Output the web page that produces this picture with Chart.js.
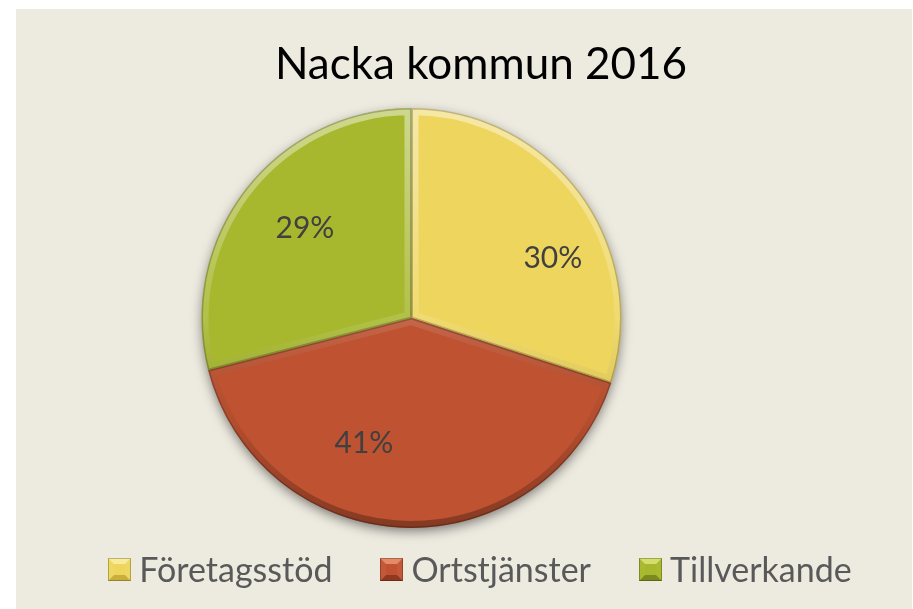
<!DOCTYPE html>
<html>
<head>
<meta charset="utf-8">
<script src="https://cdn.jsdelivr.net/npm/chart.js@4"></script>
<style>
  html, body { margin: 0; padding: 0; background: #fff; }
  body { width: 913px; height: 609px; position: relative; overflow: hidden; }
  #panel { position: absolute; left: 16px; top: 9px; width: 896px; height: 600px; background: #EDEAE0; }
  #pie { position: absolute; left: 0; top: 0; }
  #title { position: absolute; left: 0; top: 31px; width: 930px; text-align: center;
    font: 44px Lato, sans-serif; line-height: 1; color: #000; }
  #legend { position: absolute; left: 0; width: 928px; top: 543px; display: flex; justify-content: center;
    font: 34px Lato, sans-serif; color: #595959; line-height: 1; }
  .item { display: flex; align-items: center; margin: 0 24px; }
  .mark { box-sizing: border-box; width: 23px; height: 23px; border: 6px solid; margin-right: 8px; outline: 1px solid rgba(0,0,0,0.25); outline-offset: -1px; }
</style>
</head>
<body>
<div id="panel">
  <canvas id="pie" width="896" height="600"></canvas>
  <div id="title">Nacka kommun 2016</div>
  <div id="legend"></div>
</div>
<script>
(() => {
  const chartTitle = 'Nacka kommun 2016';
  const categories = ['Företagsstöd', 'Ortstjänster', 'Tillverkande'];
  const shares = [30, 41, 29];
  const sliceColors = ['#EED65E', '#BE5231', '#A7B82F'];
  const markerShades = [
    { top: '#F8EC9A', side: '#EFD862', bottom: '#C9AE3C' },
    { top: '#E48A68', side: '#C4593A', bottom: '#8F3A20' },
    { top: '#D3DE6C', side: '#A9BA31', bottom: '#7B8A1E' }
  ];

  document.getElementById('title').textContent = chartTitle;

  // legend in html, built from the same arrays
  const legend = document.getElementById('legend');
  categories.forEach((name, i) => {
    const item = document.createElement('div');
    item.className = 'item';
    const mark = document.createElement('span');
    mark.className = 'mark';
    const s = markerShades[i];
    mark.style.borderColor = `${s.top} ${s.side} ${s.bottom} ${s.side}`;
    mark.style.background = sliceColors[i];
    item.appendChild(mark);
    item.appendChild(document.createTextNode(name));
    legend.appendChild(item);
  });

  const slicePath = (ctx, a) => {
    ctx.beginPath();
    ctx.moveTo(a.x, a.y);
    ctx.arc(a.x, a.y, a.outerRadius, a.startAngle, a.endAngle);
    ctx.closePath();
  };

  const pieShadow = {
    id: 'pieShadow',
    beforeDatasetsDraw(chart) {
      const a = chart.getDatasetMeta(0).data[0];
      if (!a) return;
      const ctx = chart.ctx;
      ctx.save();
      ctx.shadowColor = 'rgba(0,0,0,0.5)';
      ctx.shadowBlur = 12;
      ctx.shadowOffsetY = 4;
      ctx.beginPath();
      ctx.arc(a.x, a.y, a.outerRadius - 1, 0, Math.PI * 2);
      ctx.fillStyle = '#9a6a3a';
      ctx.fill();
      ctx.restore();
    }
  };

  const bevel = {
    id: 'bevel',
    afterDatasetsDraw(chart) {
      const ctx = chart.ctx;
      chart.getDatasetMeta(0).data.forEach(arc => {
        const a = arc.getProps(['x', 'y', 'startAngle', 'endAngle', 'outerRadius']);
        const g = ctx.createLinearGradient(0, a.y - a.outerRadius, 0, a.y + a.outerRadius);
        g.addColorStop(0, 'rgba(255,255,255,0.45)');
        g.addColorStop(0.5, 'rgba(255,255,255,0.12)');
        g.addColorStop(0.75, 'rgba(0,0,0,0.06)');
        g.addColorStop(1, 'rgba(0,0,0,0.3)');
        ctx.save();
        slicePath(ctx, a);
        ctx.clip();
        ctx.lineJoin = 'round';
        ctx.lineWidth = 14;
        ctx.strokeStyle = g;
        slicePath(ctx, a);
        ctx.stroke();
        ctx.lineWidth = 3;
        ctx.strokeStyle = 'rgba(0,0,0,0.22)';
        slicePath(ctx, a);
        ctx.stroke();
        ctx.restore();
      });
    }
  };

  const pctLabels = {
    id: 'pctLabels',
    afterDatasetsDraw(chart, args, opts) {
      const ctx = chart.ctx;
      const data = chart.data.datasets[0].data;
      const total = data.reduce((s, v) => s + v, 0);
      ctx.save();
      ctx.font = `${opts.size}px Lato, sans-serif`;
      ctx.fillStyle = opts.color;
      ctx.textAlign = 'center';
      ctx.textBaseline = 'alphabetic';
      chart.getDatasetMeta(0).data.forEach((arc, i) => {
        const a = arc.getProps(['x', 'y', 'startAngle', 'endAngle', 'outerRadius']);
        const p = opts.placement[i];
        const ang = (a.startAngle + a.endAngle) / 2 + p.turn * Math.PI / 180;
        const r = a.outerRadius * p.frac;
        const x = a.x + Math.cos(ang) * r;
        const y = a.y + Math.sin(ang) * r;
        const txt = Math.round(data[i] / total * 100) + '%';
        ctx.fillText(txt, x, y + opts.size * 0.36);
      });
      ctx.restore();
    }
  };

  new Chart(document.getElementById('pie').getContext('2d'), {
    type: 'pie',
    data: {
      labels: categories,
      datasets: [{
        data: shares,
        backgroundColor: sliceColors,
        borderWidth: 0,
        radius: 210
      }]
    },
    options: {
      responsive: false,
      animation: false,
      events: [],
      layout: { padding: { left: 0, right: 105, top: 18, bottom: 0 } },
      plugins: {
        legend: { display: false },
        title: { display: false },
        tooltip: { enabled: false },
        pctLabels: {
          size: 30,
          color: '#404040',
          placement: [
            { turn: 12.7, frac: 0.733 },
            { turn: 19.2, frac: 0.632 },
            { turn: 2.7, frac: 0.667 }
          ]
        }
      }
    },
    plugins: [pieShadow, bevel, pctLabels]
  });
})();
</script>
</body>
</html>
